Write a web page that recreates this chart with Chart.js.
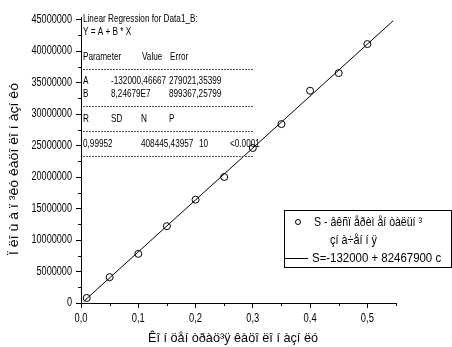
<!DOCTYPE html>
<html>
<head>
<meta charset="utf-8">
<script src="https://cdn.jsdelivr.net/npm/chart.js@4/dist/chart.umd.min.js"></script>
<style>
  html, body { margin: 0; padding: 0; background: #fff; }
  #wrap { width: 452px; height: 347px; }
</style>
</head>
<body>
<div id="wrap"><canvas id="regChart" width="452" height="347"></canvas></div>
<script>
/* ===============================
   DATA
================================ */
const concValues = [0.01, 0.05, 0.1, 0.15, 0.2, 0.25, 0.3, 0.35, 0.4, 0.45, 0.5];
const areaValues = [800000, 4100000, 7800000, 12200000, 16400000, 20000000,
                    24600000, 28400000, 33700000, 36500000, 41100000];
const fitX = [0.005, 0.545];
const fitY = [280000, 44800000];

const xTicks = [0, 0.1, 0.2, 0.3, 0.4, 0.5];
const xMinorTicks = [0.05, 0.15, 0.25, 0.35, 0.45, 0.55];
const yTicks = [0, 5000000, 10000000, 15000000, 20000000, 25000000,
                30000000, 35000000, 40000000, 45000000];
const yMinorTicks = [2500000, 7500000, 12500000, 17500000, 22500000,
                     27500000, 32500000, 37500000, 42500000];

const xTitle = "Êî í öåí òðàö³ÿ êàöî ëî í àçí ëó";
const yTitle = "Ï ëî ù à ï ³êó êàöî ëî í àçí êó";
const legendLines = ["S - âêñï åðèì åí òàëüí ³", "çí à÷åí í ÿ", "S=-132000 + 82467900 c"];

const tableRows = [
  { y: 19,  cells: [[83, "Linear Regression for Data1_B:"]] },
  { y: 32,  cells: [[83, "Y = A + B * X"]] },
  { y: 57,  cells: [[83, "Parameter"], [142, "Value"], [170, "Error"]] },
  { y: 81,  cells: [[83, "A"], [111, "-132000,46667"], [169, "279021,35399"]] },
  { y: 94,  cells: [[83, "B"], [111, "8,24679E7"], [169, "899367,25799"]] },
  { y: 119, cells: [[83, "R"], [111, "SD"], [141, "N"], [169, "P"]] },
  { y: 144, cells: [[83, "0,99952"], [141, "408445,43957"], [199, "10"], [230, "<0.0001"]] }
];
const dashRows = [69, 106, 131, 156];

const FONT = "'Liberation Sans', Arial, sans-serif";

// condensed text: sx squeezes horizontally, or fit to width w if given
function squeezed(ctx, text, x, y, size, sx, align, w) {
  ctx.font = size + "px " + FONT;
  let k = sx;
  if (w) k = w / ctx.measureText(text).width;
  ctx.save();
  ctx.translate(x, y);
  ctx.scale(k, 1);
  ctx.textAlign = align || "left";
  ctx.textBaseline = "middle";
  ctx.fillText(text, 0, 0);
  ctx.restore();
}

/* ===============================
   EXTRAS: labels, minor ticks, table, legend
================================ */
const extras = {
  id: "extras",
  afterDraw(chart) {
    const ctx = chart.ctx;
    const xs = chart.scales.x, ys = chart.scales.y;
    const area = chart.chartArea;
    ctx.save();
    ctx.strokeStyle = "#000";
    ctx.fillStyle = "#000";
    ctx.lineWidth = 1;

    // minor ticks
    ctx.beginPath();
    xMinorTicks.forEach(v => {
      const px = Math.round(xs.getPixelForValue(v)) + 0.5;
      ctx.moveTo(px, area.bottom);
      ctx.lineTo(px, area.bottom + 3);
    });
    yMinorTicks.forEach(v => {
      const py = Math.round(ys.getPixelForValue(v)) + 0.5;
      ctx.moveTo(area.left, py);
      ctx.lineTo(area.left - 3, py);
    });
    ctx.stroke();

    // tick labels
    xTicks.forEach(v => {
      squeezed(ctx, v.toFixed(1).replace(".", ","), xs.getPixelForValue(v), 319, 12, 0.78, "center");
    });
    yTicks.forEach(v => {
      squeezed(ctx, String(v), 72, ys.getPixelForValue(v), 12, 0.76, "right");
    });

    // axis titles
    squeezed(ctx, xTitle, 233, 338, 13, 1, "center", 170);
    ctx.save();
    ctx.translate(14, 169);
    ctx.rotate(-Math.PI / 2);
    squeezed(ctx, yTitle, 0, 0, 13, 1, "center", 172);
    ctx.restore();

    // regression table
    tableRows.forEach(r => r.cells.forEach(c => squeezed(ctx, c[1], c[0], r.y, 10.5, 0.78, "left")));
    ctx.setLineDash([2, 1]);
    ctx.strokeStyle = "#555";
    ctx.beginPath();
    dashRows.forEach(y => {
      ctx.moveTo(83, y + 0.5);
      ctx.lineTo(253, y + 0.5);
    });
    ctx.stroke();
    ctx.setLineDash([]);

    // legend box
    ctx.strokeStyle = "#000";
    ctx.strokeRect(284.5, 210.5, 167, 57);
    ctx.beginPath();
    ctx.arc(298, 222, 2.5, 0, Math.PI * 2);
    ctx.stroke();
    ctx.beginPath();
    ctx.moveTo(285, 258.5);
    ctx.lineTo(308, 258.5);
    ctx.stroke();
    squeezed(ctx, legendLines[0], 314, 222, 13, 1, "left", 108);
    squeezed(ctx, legendLines[1], 330, 240, 13, 1, "left", 47);
    squeezed(ctx, legendLines[2], 312, 258, 13, 0.88, "left");
    ctx.restore();
  }
};

/* ===============================
   CHART
================================ */
const ctx = document.getElementById("regChart").getContext("2d");

new Chart(ctx, {
  type: "scatter",
  data: {
    datasets: [
      {
        label: "S",
        data: concValues.map((x, i) => ({ x, y: areaValues[i] })),
        showLine: false,
        pointStyle: "circle",
        pointRadius: 3.5,
        pointBorderWidth: 1,
        pointBorderColor: "#000",
        pointBackgroundColor: "rgba(255,255,255,0)"
      },
      {
        label: "fit",
        data: fitX.map((x, i) => ({ x, y: fitY[i] })),
        showLine: true,
        borderColor: "#000",
        borderWidth: 1,
        pointRadius: 0
      }
    ]
  },
  options: {
    responsive: false,
    animation: false,
    events: [],
    layout: { padding: { left: 4, top: 17, right: 56, bottom: 0 } },
    plugins: { legend: { display: false }, tooltip: { enabled: false } },
    scales: {
      x: {
        type: "linear",
        min: 0,
        max: 0.55,
        afterBuildTicks: s => { s.ticks = xTicks.map(v => ({ value: v })); },
        afterFit: s => { s.height = 44; },
        border: { color: "#000", width: 1 },
        grid: { drawOnChartArea: false, drawTicks: true, tickLength: 5, color: "#000" },
        ticks: { display: false },
        title: { display: false }
      },
      y: {
        type: "linear",
        min: 0,
        max: 45400000,
        afterBuildTicks: s => { s.ticks = yTicks.map(v => ({ value: v })); },
        afterFit: s => { s.width = 77; },
        border: { color: "#000", width: 1 },
        grid: { drawOnChartArea: false, drawTicks: true, tickLength: 5, color: "#000" },
        ticks: { display: false },
        title: { display: false }
      }
    }
  },
  plugins: [extras]
});
</script>
</body>
</html>
